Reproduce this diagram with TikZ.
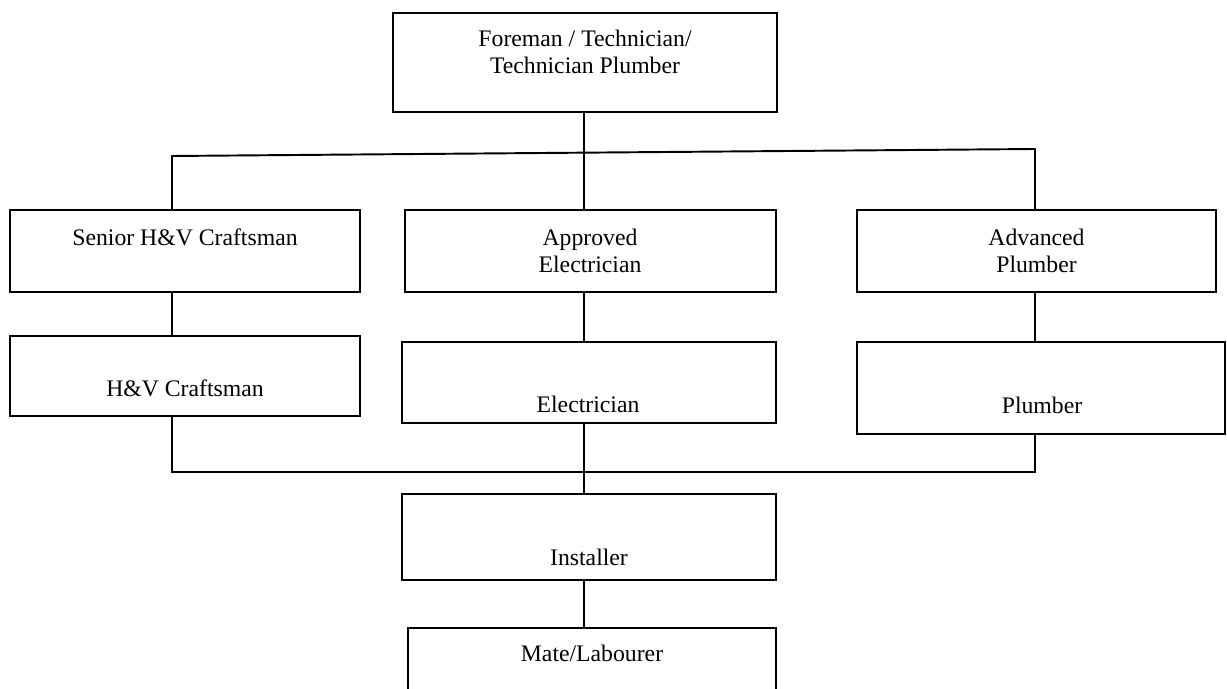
\documentclass[tikz,border=0pt]{standalone}
\usepackage{fontspec}
\setmainfont{Liberation Serif}
\usetikzlibrary{positioning,calc}

\tikzset{
  box/.style={draw, line width=1.1pt, inner sep=0pt},
  txt/.style={align=center, inner sep=0pt, font=\fontsize{13.5}{15.4}\selectfont},
  link/.style={line width=1.1pt}
}

\begin{document}
\begin{tikzpicture}[x=0.02cm, y=-0.02cm]
    \useasboundingbox (0,0) rectangle (1227,689);
    \clip (0,0) rectangle (1227,689);

    % Boxes
    \node[box, minimum width=7.68cm, minimum height=1.98cm] (fore) at (585,62.5) {};
    \node[box, minimum width=7cm, minimum height=1.64cm] (senior) at (185,251) {};
    \node[box, minimum width=7.42cm, minimum height=1.64cm] (appr) at (590.5,251) {};
    \node[box, minimum width=7.18cm, minimum height=1.64cm] (adv) at (1036.5,251) {};
    \node[box, minimum width=7cm, minimum height=1.6cm] (hv) at (185,376) {};
    \node[box, minimum width=7.48cm, minimum height=1.62cm] (elec) at (589,382.5) {};
    \node[box, minimum width=7.36cm, minimum height=1.84cm] (plumb) at (1041,388) {};
    \node[box, minimum width=7.48cm, minimum height=1.72cm] (inst) at (589,537) {};
    \node[box, minimum width=7.36cm, minimum height=2.04cm] (mate) at (592,679) {};

    % Labels
    \node[txt] (foretxt) at (585,52) {Foreman / Technician/\\Technician Plumber};
    \node[txt] (seniortxt) at (185,237) {Senior H\&V Craftsman};
    \node[txt] (apprtxt) at (590,250.5) {Approved\\Electrician};
    \node[txt] (advtxt) at (1036.5,250.5) {Advanced\\Plumber};
    \node[txt] (hvtxt) at (185,388) {H\&V Craftsman};
    \node[txt] (electxt) at (588,404) {Electrician};
    \node[txt] (plumbtxt) at (1042,405) {Plumber};
    \node[txt] (insttxt) at (589,557) {Installer};
    \node[txt] (matetxt) at (592,653) {Mate/Labourer};

    % Connector points
    \coordinate (spine) at (584,153);
    \coordinate (lbar) at (172,156);
    \coordinate (rbar) at (1035,149);
    \coordinate (lbot) at (172,472);
    \coordinate (rbot) at (1035,472);

    % Top level
    \draw[link] (spine |- fore.south) -- (spine |- appr.north);
    \draw[link] (lbar |- senior.north) -- (lbar) -- (rbar) -- (rbar |- adv.north);

    % Columns
    \draw[link] (lbar |- senior.south) -- (lbar |- hv.north);
    \draw[link] (spine |- appr.south) -- (spine |- elec.north);
    \draw[link] (rbar |- adv.south) -- (rbar |- plumb.north);

    % Bottom level
    \draw[link] (lbot |- hv.south) -- (lbot) -- (rbot) -- (rbot |- plumb.south);
    \draw[link] (spine |- elec.south) -- (spine |- inst.north);
    \draw[link] (spine |- inst.south) -- (spine |- mate.north);
\end{tikzpicture}
\end{document}
